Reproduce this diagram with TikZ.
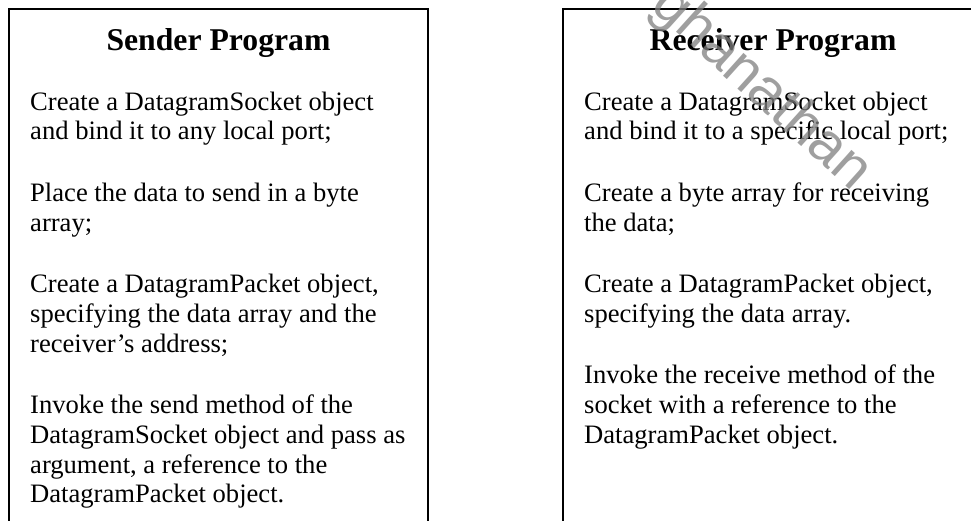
\documentclass[tikz,border=0pt]{standalone}
\usepackage{fontspec}
\setmainfont{Liberation Serif}
\newfontfamily\wmfont{Liberation Sans}
\definecolor{wmgray}{HTML}{7F7F7F}
\tikzset{
  boxline/.style={line width=2pt, draw=black},
  bodytext/.style={anchor=base west, inner sep=0pt, font=\fontsize{26.6}{29.75}\selectfont},
  titletext/.style={anchor=base, inner sep=0pt, font=\fontsize{31.7}{36}\selectfont\bfseries},
  watermark/.style={inner sep=0pt, text=wmgray, text opacity=0.75, font=\wmfont\fontsize{58}{60}\selectfont}
}
\begin{document}
\begin{tikzpicture}[x=1pt,y=-1pt]
\useasboundingbox (0,0) rectangle (971,520);
% box corners
\coordinate (Lbl) at (9,530);
\coordinate (Ltl) at (9,9);
\coordinate (Ltr) at (428,9);
\coordinate (Lbr) at (428,530);
\coordinate (Rbl) at (563,530);
\coordinate (Rtl) at (563,9);
\coordinate (Rtr) at (983,9);
\coordinate (Rbr) at (983,530);
\draw[boxline] (Lbl) -- (Ltl) -- (Ltr) -- (Lbr);
\draw[boxline] (Rbl) -- (Rtl) -- (Rtr) -- (Rbr);
% titles
\node[titletext] (stitle) at (218.5,50) {Sender Program};
\node[titletext] (rtitle) at (773,50) {Receiver Program};
% sender text
\node[bodytext] (s1a) at (30,110) {Create a DatagramSocket object};
\node[bodytext] (s1b) at (30,139.75) {and bind it to any local port;};
\node[bodytext] (s2a) at (30,201.25) {Place the data to send in a byte};
\node[bodytext] (s2b) at (30,231) {array;};
\node[bodytext] (s3a) at (30,292.5) {Create a DatagramPacket object,};
\node[bodytext] (s3b) at (30,322.25) {specifying the data array and the};
\node[bodytext] (s3c) at (30,352) {receiver’s address;};
\node[bodytext] (s4a) at (30,413.5) {Invoke the send method of the};
\node[bodytext] (s4b) at (30,443.25) {DatagramSocket object and pass as};
\node[bodytext] (s4c) at (30,473) {argument, a reference to the};
\node[bodytext] (s4d) at (30,502.75) {DatagramPacket object.};
% receiver text
\node[bodytext] (r1a) at (584,110) {Create a DatagramSocket object};
\node[bodytext] (r1b) at (584,139.75) {and bind it to a specific local port;};
\node[bodytext] (r2a) at (584,201.25) {Create a byte array for receiving};
\node[bodytext] (r2b) at (584,231) {the data;};
\node[bodytext] (r3a) at (584,292.5) {Create a DatagramPacket object,};
\node[bodytext] (r3b) at (584,322.25) {specifying the data array.};
\node[bodytext] (r4a) at (584,383.75) {Invoke the receive method of the};
\node[bodytext] (r4b) at (584,413.5) {socket with a reference to the};
\node[bodytext] (r4c) at (584,443.25) {DatagramPacket object.};
% watermark
\node[watermark, rotate=-42] (wm) at (761,89) {ghanathan};
\end{tikzpicture}
\end{document}
